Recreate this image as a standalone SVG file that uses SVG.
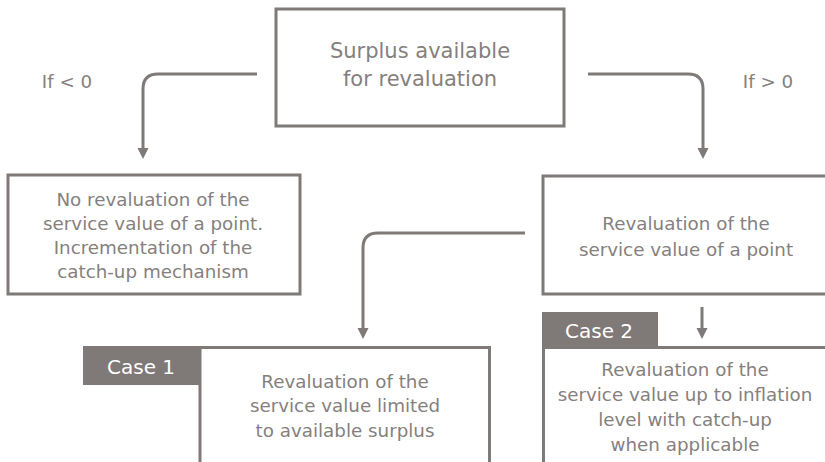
<svg xmlns="http://www.w3.org/2000/svg" width="825" height="462" viewBox="0 0 825 462">
<style>
.box{fill:none;stroke:#7f7978;stroke-width:3}
.ln{fill:none;stroke:#7f7978;stroke-width:3}
.ah{fill:#7f7978}
.t{font-family:"DejaVu Sans","Liberation Sans",sans-serif;font-size:18.3px;fill:#857f7e;text-anchor:middle}
.big{font-size:21px}
.lab{fill:#7f7978}
.lt{font-family:"DejaVu Sans","Liberation Sans",sans-serif;font-size:20px;fill:#ffffff;text-anchor:middle}
</style>
<rect width="825" height="462" fill="#ffffff"/>
<g id="connectors">
<path class="ln" d="M257 74 H158 Q143 74 143 89 V149"/>
<polygon class="ah" points="137.5,148 148.5,148 143,159"/>
<path class="ln" d="M588 74 H688 Q703 74 703 89 V149"/>
<polygon class="ah" points="697.5,148 708.5,148 703,159"/>
<path class="ln" d="M525 233 H378 Q363 233 363 248 V329"/>
<polygon class="ah" points="357.5,328 368.5,328 363,339"/>
<path class="ln" d="M702 307 V329"/>
<polygon class="ah" points="696.5,328 707.5,328 702,339"/>
<text class="t" x="67" y="88" font-size="19">If &lt; 0</text>
<text class="t" x="768" y="88" font-size="19">If &gt; 0</text>
</g>
<g id="surplus">
<rect class="box" x="276" y="9" width="288" height="117"/>
<text class="t big" x="420" y="58">Surplus available</text>
<text class="t big" x="420" y="86">for revaluation</text>
</g>
<g id="no-revaluation">
<rect class="box" x="8" y="175" width="292" height="119"/>
<text class="t" x="153" y="206">No revaluation of the</text>
<text class="t" x="153" y="230">service value of a point.</text>
<text class="t" x="153" y="254">Incrementation of the</text>
<text class="t" x="153" y="278">catch-up mechanism</text>
</g>
<g id="revaluation">
<rect class="box" x="543" y="176" width="300" height="118"/>
<text class="t" x="686" y="230">Revaluation of the</text>
<text class="t" x="686" y="256">service value of a point</text>
</g>
<g id="case1">
<path class="box" d="M200 470 V347.5 H489.5 V470"/>
<rect class="lab" x="83" y="346" width="117" height="39"/>
<text class="lt" x="141" y="374">Case 1</text>
<text class="t" x="345" y="388">Revaluation of the</text>
<text class="t" x="345" y="412">service value limited</text>
<text class="t" x="345" y="437">to available surplus</text>
</g>
<g id="case2">
<path class="box" d="M543.5 470 V347.5 H830"/>
<rect class="lab" x="542" y="312" width="116" height="35"/>
<text class="lt" x="599" y="338">Case 2</text>
<text class="t" x="685" y="376">Revaluation of the</text>
<text class="t" x="685" y="401">service value up to inflation</text>
<text class="t" x="685" y="426">level with catch-up</text>
<text class="t" x="685" y="451">when applicable</text>
</g>
</svg>
